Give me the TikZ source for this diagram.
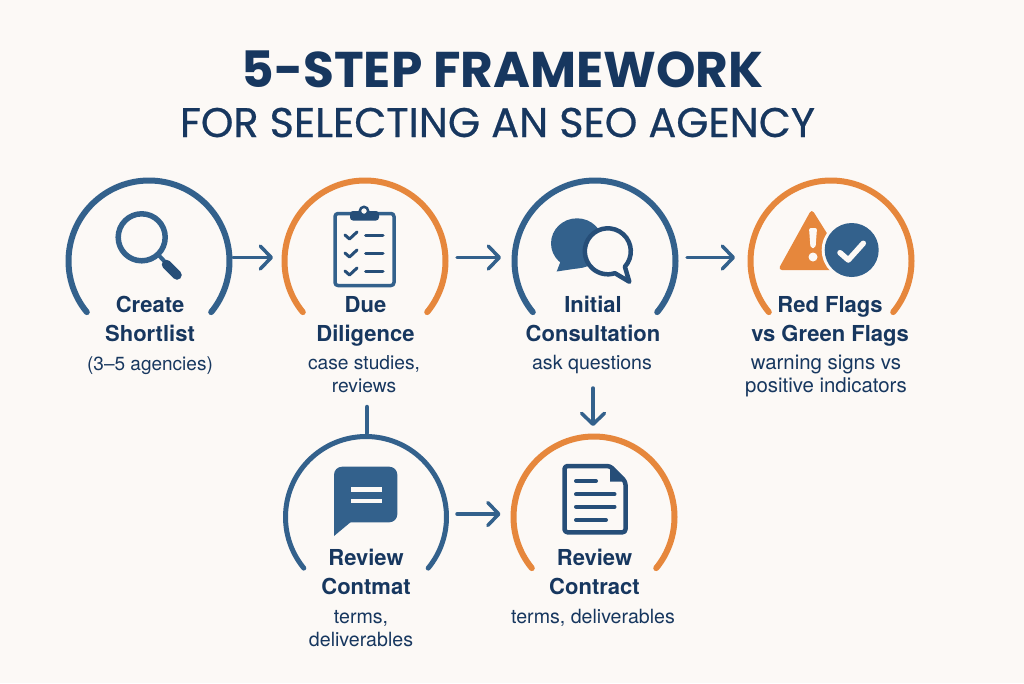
\documentclass[tikz,border=0pt]{standalone}
\usepackage{fontspec}
\setmainfont{TeX Gyre Heros}
\newfontfamily\titlefont{Poppins}
\newfontfamily\subfont[FakeBold=0.6]{Poppins}
\usetikzlibrary{arrows.meta}
\definecolor{bluemain}{HTML}{33618C}
\definecolor{bluedark}{HTML}{264E78}
\definecolor{orangemain}{HTML}{E6873C}
\definecolor{inkdark}{HTML}{17375F}
\definecolor{paper}{HTML}{FCF9F6}
\tikzset{
  x=1pt,y=-1pt,
  ring/.style={circle,minimum size=168pt,inner sep=0pt,outer sep=0pt},
  arcblue/.style={draw=bluemain,line width=6pt,line cap=round},
  arcorange/.style={draw=orangemain,line width=6pt,line cap=round},
  conn/.style={draw=bluemain,line width=3.5pt,line cap=round},
  head/.style={conn,-{Straight Barb[length=11pt,width=23pt,round]}},
  heading/.style={text=inkdark,font=\fontsize{22}{28.3}\selectfont\bfseries,align=center,inner sep=0pt,anchor=base},
  detail/.style={text=inkdark,font=\fontsize{19.6}{23}\selectfont,align=center,inner sep=0pt,anchor=base},
  iconline/.style={draw=bluemain,line width=3.5pt,line cap=round,line join=round},
  darkline/.style={draw=bluedark,line width=4pt,line cap=round,line join=round},
}
\newcommand{\ringarc}[2]{\draw[#2] (#1.center) ++(219.4:80.5pt) arc[start angle=219.4,end angle=-39.4,radius=80.5pt];}
\begin{document}
\begin{tikzpicture}
\useasboundingbox (0,0) rectangle (1024,683);
\fill[paper] (0,0) rectangle (1024,683);
% title
\node[text=inkdark,inner sep=0pt,anchor=base,font=\titlefont\fontsize{50.2}{60}\selectfont\bfseries] (title) at (502.5,87.5) {5-STEP FRAMEWORK};
\node[text=inkdark,inner sep=0pt,anchor=base,font=\subfont\fontsize{41.4}{50}\selectfont] (subtitle) at (497.5,137) {FOR SELECTING AN SEO AGENCY};
% rings
\node[ring] (r1) at (149,261) {};
\node[ring] (r2) at (365,261) {};
\node[ring] (r3) at (595,261) {};
\node[ring] (r4) at (831,261) {};
\node[ring] (r5) at (366,517) {};
\node[ring] (r6) at (594,517) {};
\ringarc{r1}{arcblue}
\ringarc{r2}{arcorange}
\ringarc{r3}{arcblue}
\ringarc{r4}{arcorange}
\ringarc{r5}{arcblue,line width=5pt}
\ringarc{r6}{arcorange}
% connectors
\draw[head] ([yshift=3.5pt]r1.east) -- ([xshift=-8pt,yshift=3.5pt]r2.west);
\draw[head] ([xshift=8pt,yshift=3.5pt]r2.east) -- ([xshift=-10pt,yshift=3.5pt]r3.west);
\draw[head] ([xshift=8pt,yshift=3.5pt]r3.east) -- ([xshift=-12pt,yshift=3.5pt]r4.west);
\draw[head] ([xshift=7pt,yshift=3pt]r5.east) -- ([xshift=-9.5pt,yshift=3pt]r6.west);
\draw[head] ([xshift=-2pt,yshift=-43pt]r3.south) -- ([xshift=-1pt,yshift=7pt]r6.north);
\draw[conn,line width=4.5pt] ([xshift=2pt,yshift=-62pt]r2.south) -- ([xshift=1pt]r5.north);
% labels
\node[heading] (h1) at (150,341) {Create\\Shortlist};
\node[detail,font=\fontsize{19}{23}\selectfont] (d1) at (150,370) {(3–5 agencies)};
\node[heading] (h2) at (365.5,341) {Due\\Diligence};
\node[detail,font=\fontsize{19.2}{23}\selectfont] (d2) at (364,392) {case studies,\\reviews};
\node[heading] (h3) at (593,341) {Initial\\Consultation};
\node[detail] (d3) at (592,369.5) {ask questions};
\node[heading] (h4) at (830,341) {Red Flags\\vs Green Flags};
\node[detail,font=\fontsize{20.4}{23}\selectfont] (d4) at (826,392) {warning signs vs\\positive indicators};
\node[heading] (h5) at (366,594) {Review\\Contmat};
\node[detail] (d5) at (361,646) {terms,\\deliverables};
\node[heading] (h6) at (594.5,594) {Review\\Contract};
\node[detail] (d6) at (593,623) {terms, deliverables};
% magnifier
\draw[iconline,line width=5.5pt] (141.7,237.3) circle[radius=23.5pt];
\draw[iconline,line width=4pt,line cap=butt] (158,254.5) -- (166,263);
\draw[draw=bluedark,line width=9.5pt,line cap=round] (166.5,264.5) -- (177,275);
% clipboard
\draw[iconline,rounded corners=3pt] (335,213.5) rectangle (394,285.5);
\fill[bluedark,rounded corners=3pt] (350,211) rectangle (379,220.5);
\draw[bluedark,line width=2.5pt,fill=paper] (364,211) circle[radius=4.2pt];
\foreach \yy in {235,253,271}{
  \draw[darkline,line width=3pt] (345,\yy) -- (349.5,\yy+4) -- (357,\yy-3);
  \draw[darkline,line width=3pt] (365.5,\yy) -- (383,\yy);
}
% chat bubbles
\fill[bluemain] (577,243.3) ellipse[x radius=26pt,y radius=25pt];
\fill[bluemain] (563,255) -- (556.7,271.5) -- (580,268) -- cycle;
\draw[draw=bluedark,line width=4.5pt,fill=paper,line join=round] (607.8,251.3) ++(-42:23pt) arc[start angle=-42,end angle=288,radius=23pt] -- (629.3,281.7) -- cycle;
% warning and check
\fill[orangemain,rounded corners=4pt] (811.7,209) -- (778,270) -- (850,270) -- cycle;
\fill[paper] (851.7,250) circle[radius=30pt];
\fill[bluemain] (851.7,250) circle[radius=27pt];
\fill[paper,rounded corners=2pt] (809,228) -- (817,228) -- (815.5,248) -- (810.5,248) -- cycle;
\fill[paper] (813,257) circle[radius=4.5pt];
\draw[draw=paper,line width=5.5pt,line cap=round,line join=round] (840,252.7) -- (848.3,260) -- (863.3,243.3);
% comment bubble
\fill[bluemain,rounded corners=8pt] (334,466.7) rectangle (397.3,522.3);
\fill[bluemain] (334,510) -- (334,536) -- (352,521) -- cycle;
\draw[draw=paper,line width=4.5pt] (351,489.3) -- (381.7,489.3);
\draw[draw=paper,line width=4.5pt] (351,501) -- (381.7,501);
% document
\draw[darkline,line width=4.5pt,rounded corners=3pt] (610,466) -- (564.5,466) -- (564.5,532.3) -- (625.5,532.3) -- (625.5,481.7) -- cycle;
\fill[bluedark,line join=round] (610,466) -- (625.5,481.7) -- (610,481.7) -- cycle;
\draw[darkline] (576,481) -- (596,481);
\draw[darkline] (576,494.3) -- (614.5,494.3);
\draw[darkline] (576,506.7) -- (614.5,506.7);
\draw[darkline] (576,520) -- (606,520);
\end{tikzpicture}
\end{document}
